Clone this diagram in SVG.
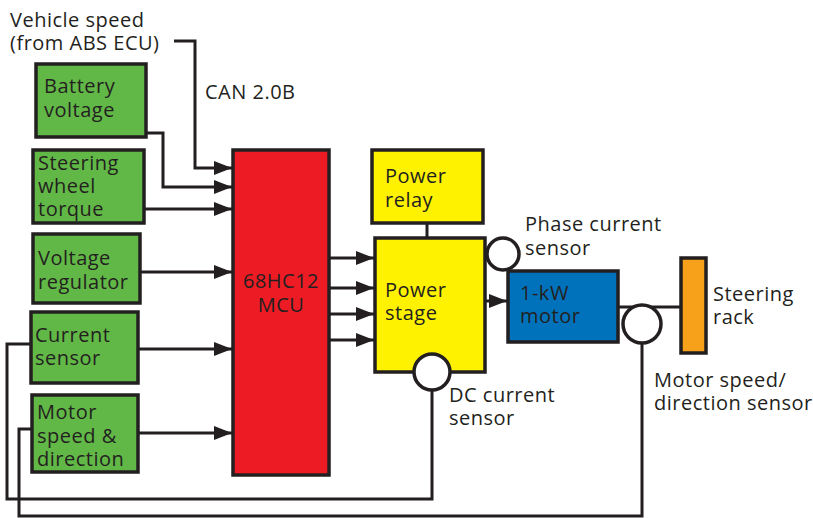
<svg xmlns="http://www.w3.org/2000/svg" width="813" height="518" viewBox="0 0 813 518">
<style>
.box{stroke:#231F20;stroke-width:3.5}
.g{fill:#62B847}
.t{font-family:"Open Sans","Noto Sans","Liberation Sans",sans-serif;font-size:20px;letter-spacing:0.5px;fill:#231F20}
.c{fill:none;stroke:#231F20;stroke-width:3}
.s{fill:#fff;stroke:#231F20;stroke-width:3.5}
</style>
<defs>
<marker id="ah" markerUnits="userSpaceOnUse" markerWidth="20" markerHeight="16" refX="19" refY="8" orient="auto">
<path d="M1,1 L19,8 L1,15 Z" fill="#231F20"/>
</marker>
</defs>
<rect width="813" height="518" fill="#fff"/>
<g id="connectors">
<path class="c" d="M174,41 H195 V168 H232" marker-end="url(#ah)"/>
<path class="c" d="M146,133 H163 V187 H232" marker-end="url(#ah)"/>
<path class="c" d="M144,209 H232" marker-end="url(#ah)"/>
<path class="c" d="M140,272 H232" marker-end="url(#ah)"/>
<path class="c" d="M138,349 H232" marker-end="url(#ah)"/>
<path class="c" d="M138,433 H232" marker-end="url(#ah)"/>
<path class="c" d="M329,258 H374" marker-end="url(#ah)"/>
<path class="c" d="M329,288 H374" marker-end="url(#ah)"/>
<path class="c" d="M329,314 H374" marker-end="url(#ah)"/>
<path class="c" d="M329,340 H374" marker-end="url(#ah)"/>
<path class="c" d="M486,301 H507" marker-end="url(#ah)"/>
<path class="c" d="M427,223 V238"/>
<path class="c" d="M618,307 H681"/>
<path class="c" d="M31,344 H7 V499 H432 V390"/>
<path class="c" d="M32,429 H19 V516 H642 V343"/>
</g>
<g id="vehicle-speed"><text class="t" x="10" y="27">Vehicle speed</text><text class="t" x="10" y="50">(from ABS ECU)</text></g>
<g id="can"><text class="t" x="205" y="99">CAN 2.0B</text></g>
<g id="battery"><rect class="box g" x="36" y="64" width="110" height="73"/><text class="t" x="44" y="93">Battery</text><text class="t" x="44" y="117">voltage</text></g>
<g id="torque"><rect class="box g" x="33" y="150" width="111" height="73"/><text class="t" x="38" y="170">Steering</text><text class="t" x="38" y="193">wheel</text><text class="t" x="38" y="216">torque</text></g>
<g id="vreg"><rect class="box g" x="33" y="234" width="107" height="69"/><text class="t" x="38" y="265">Voltage</text><text class="t" x="38" y="289">regulator</text></g>
<g id="current"><rect class="box g" x="31" y="312" width="107" height="71"/><text class="t" x="35" y="342">Current</text><text class="t" x="35" y="365">sensor</text></g>
<g id="motorspeed"><rect class="box g" x="32" y="395" width="106" height="77"/><text class="t" x="37" y="419">Motor</text><text class="t" x="37" y="443">speed &amp;</text><text class="t" x="37" y="466">direction</text></g>
<g id="mcu"><rect class="box" fill="#ED1C24" x="233" y="150" width="96" height="325"/><text class="t" x="281" y="288" text-anchor="middle">68HC12</text><text class="t" x="281" y="312" text-anchor="middle">MCU</text></g>
<g id="relay"><rect class="box" fill="#FFF200" x="372" y="150" width="111" height="73"/><text class="t" x="385" y="183">Power</text><text class="t" x="385" y="207">relay</text></g>
<g id="stage"><rect class="box" fill="#FFF200" x="375" y="238" width="110" height="134"/><text class="t" x="385" y="297">Power</text><text class="t" x="385" y="320">stage</text></g>
<g id="phase-sensor"><circle class="s" cx="503" cy="254" r="16"/><text class="t" x="525" y="231">Phase current</text><text class="t" x="525" y="255">sensor</text></g>
<g id="dc-sensor"><circle class="s" cx="432" cy="372" r="18"/><text class="t" x="449" y="402">DC current</text><text class="t" x="449" y="425">sensor</text></g>
<g id="motor"><rect class="box" fill="#0072BC" x="508" y="271" width="110" height="71"/><text class="t" x="520" y="300">1-kW</text><text class="t" x="520" y="323">motor</text></g>
<g id="speed-sensor"><circle class="s" cx="642" cy="324" r="19"/><text class="t" x="654" y="387">Motor speed/</text><text class="t" x="654" y="410">direction sensor</text></g>
<g id="rack"><rect class="box" fill="#F7A11A" x="681" y="258" width="25" height="95"/><text class="t" x="713" y="301">Steering</text><text class="t" x="713" y="324">rack</text></g>
</svg>
